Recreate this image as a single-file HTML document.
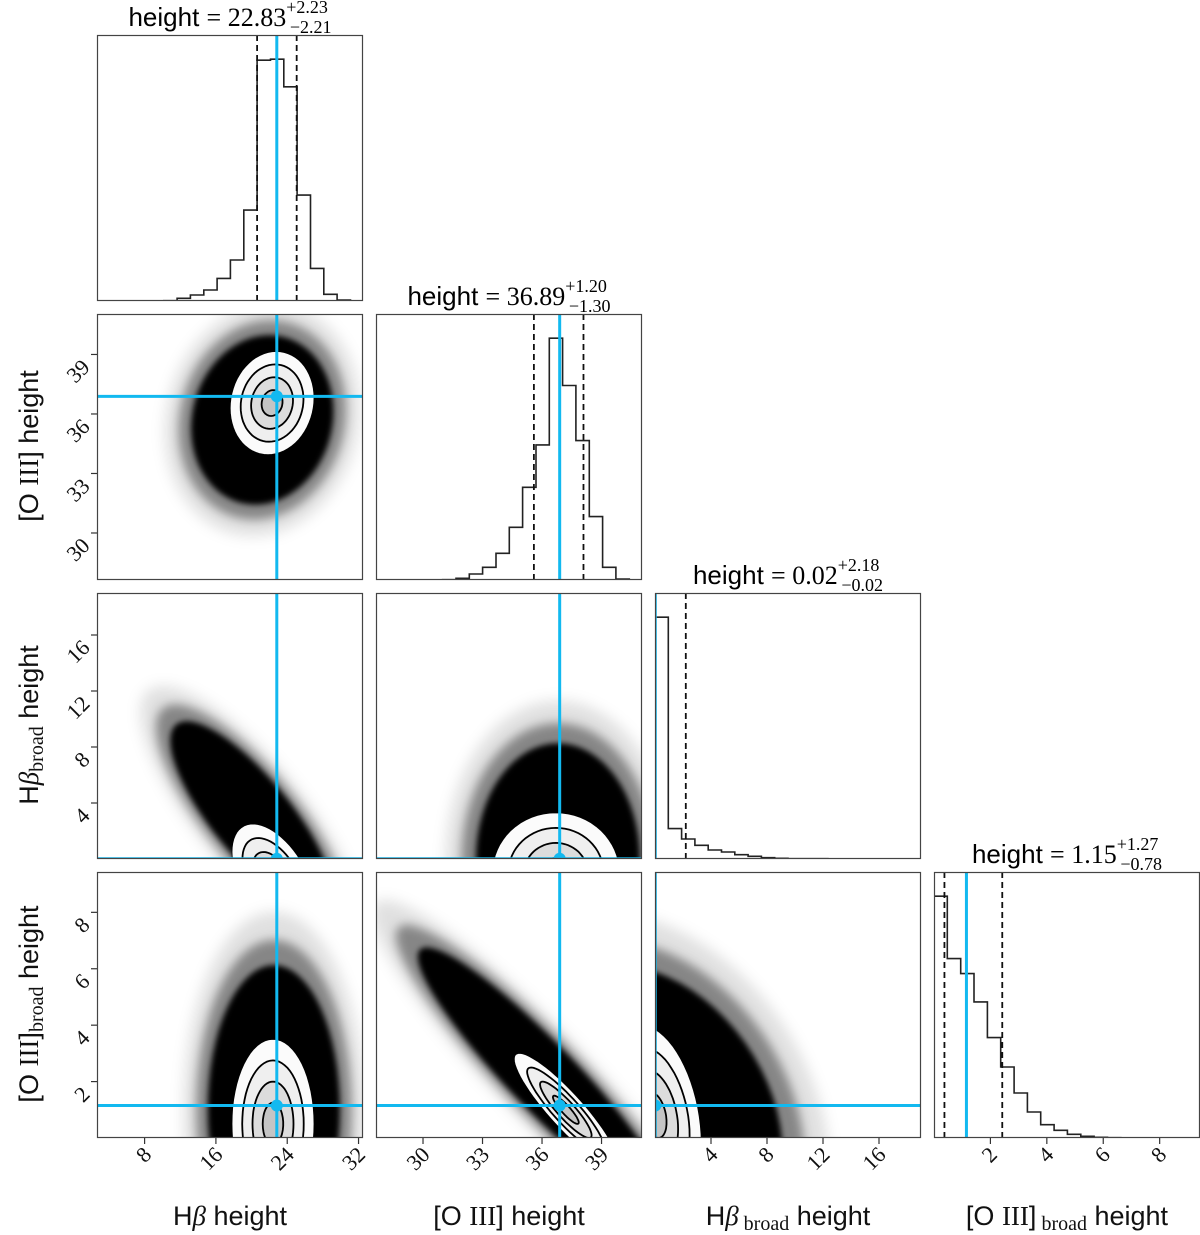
<!DOCTYPE html>
<html><head><meta charset="utf-8">
<style>
html,body{margin:0;padding:0;background:#fff;width:1200px;height:1235px;overflow:hidden;}
svg{display:block;overflow:hidden;}
.tick{font-family:"Liberation Serif",serif;font-size:22px;fill:#111;}
.lab{font-family:"Liberation Sans",sans-serif;font-size:27px;fill:#111;}
.ser{font-family:"Liberation Serif",serif;}
</style></head>
<body>
<svg id="chart" width="1200" height="1235" viewBox="0 0 1200 1235" xmlns="http://www.w3.org/2000/svg">
<defs>
<filter id="b8" x="-50%" y="-50%" width="200%" height="200%"><feGaussianBlur stdDeviation="7"/></filter>
<filter id="b5" x="-50%" y="-50%" width="200%" height="200%"><feGaussianBlur stdDeviation="5"/></filter>
<filter id="b3" x="-50%" y="-50%" width="200%" height="200%"><feGaussianBlur stdDeviation="3"/></filter>
</defs>
<g class="lab">
<text x="230" y="1225" text-anchor="middle">H<tspan class="ser" font-style="italic">β</tspan> height</text>
<text x="509" y="1225" text-anchor="middle">[O <tspan class="ser">III</tspan>] height</text>
<text x="788" y="1225" text-anchor="middle">H<tspan class="ser" font-style="italic">β</tspan><tspan class="ser" font-size="20" dy="5"> broad</tspan><tspan dy="-5"> height</tspan></text>
<text x="1067" y="1225" text-anchor="middle">[O <tspan class="ser">III</tspan>]<tspan class="ser" font-size="20" dy="5"> broad</tspan><tspan dy="-5"> height</tspan></text>
<text transform="translate(38,446) rotate(-90)" text-anchor="middle">[O <tspan class="ser">III</tspan>] height</text>
<text transform="translate(38,725) rotate(-90)" text-anchor="middle">H<tspan class="ser" font-style="italic">β</tspan><tspan class="ser" font-size="20" dy="5">broad</tspan><tspan dy="-5"> height</tspan></text>
<text transform="translate(38,1004) rotate(-90)" text-anchor="middle">[O <tspan class="ser">III</tspan>]<tspan class="ser" font-size="20" dy="5">broad</tspan><tspan dy="-5"> height</tspan></text>
</g>
</svg>
<script>
// ---- data ----
const medians = [22.83, 36.89, 0.02, 1.15];
const errPlus = [2.23, 1.20, 2.18, 1.27];
const errMinus = [2.21, 1.30, 0.02, 0.78];
const rangeLo = [2.66, 27.63, 0.0, 0.0];
const rangeHi = [32.5, 41.04, 19.0, 9.43];
const ticksA = [8,16,24,32];
const ticksB = [30,33,36,39];
const ticksC = [4,8,12,16];
const ticksD = [2,4,6,8];
const histStartA = 10.15, histWidthA = 1.496;
const histCountsA = [1,8,18,33,68,123,273,723,726,643,318,98,20,3];
const histStartB = 30.99, histWidthB = 0.672;
const histCountsB = [1,5,18,38,80,158,278,405,725,583,418,190,38,3];
const histStartC = 0.0, histWidthC = 0.95;
const histCountsC = [725,91,60,41,27,21,13,8,4,2,1,1,1];
const histStartD = 0.0, histWidthD = 0.473;
const histCountsD = [725,538,493,408,301,213,135,78,40,23,11,5,2,1];
// 2D panels: [row, col]; cloud & contour gaussian parameters (cx, cy, sx, sy, rho) in data units
const pairRows = [1,2,2,3,3,3];
const pairCols = [0,0,1,0,1,2];
const cloudCx = [21.2, 20.0, 36.8, 22.5, 36.0, 0.0];
const cloudCy = [35.7, 3.0, 0.0, 1.0, 2.2, 1.0];
const cloudSx = [2.8, 3.2, 1.45, 2.6, 2.2, 3.2];
const cloudSy = [1.5, 2.4, 2.9, 1.8, 1.6, 1.8];
const cloudRho = [0.1, -0.8, 0.0, 0.0, -0.93, -0.3];
const contCx = [22.3, 22.5, 36.7, 22.4, 37.2, 0.0];
const contCy = [36.55, -1.5, -1.0, 0.5, 1.0, 0.8];
const contSx = [2.35, 2.35, 1.6, 2.3, 1.3, 1.65];
const contSy = [1.3, 2.0, 2.15, 1.5, 1.0, 1.6];
const contRho = [0.1, -0.5, 0.0, 0.0, -0.9, -0.3];

const allTicks = [ticksA, ticksB, ticksC, ticksD];
const histStart = [histStartA, histStartB, histStartC, histStartD];
const histWidth = [histWidthA, histWidthB, histWidthC, histWidthD];
const histCounts = [histCountsA, histCountsB, histCountsC, histCountsD];

const NS = "http://www.w3.org/2000/svg";
const svg = document.getElementById("chart");
const P0X = 97, P0Y = 35, STEP = 279, SZ = 266, BLUE = "#12b9f0";
function px(i){return P0X + STEP*i;}
function py(j){return P0Y + STEP*j;}
function xs(v, val){return px(v) + (val - rangeLo[v])/(rangeHi[v]-rangeLo[v])*SZ;}
function ys(v, row, val){return py(row) + SZ - (val - rangeLo[v])/(rangeHi[v]-rangeLo[v])*SZ;}
function mk(tag, attrs, parent){const e=document.createElementNS(NS,tag);for(const k in attrs)e.setAttribute(k,attrs[k]);(parent||svg).appendChild(e);return e;}

function ellipsePath(xv, yv, row, cx, cy, sx, sy, rho, k){
  let d = "";
  const s = Math.sqrt(1-rho*rho);
  for(let t=0;t<=64;t++){
    const a = t/64*2*Math.PI;
    const X = cx + k*sx*Math.cos(a);
    const Y = cy + k*sy*(rho*Math.cos(a) + s*Math.sin(a));
    d += (t?"L":"M") + xs(xv,X).toFixed(1) + " " + ys(yv,row,Y).toFixed(1);
  }
  return d + "Z";
}

const defs = svg.querySelector("defs");
for(let j=0;j<4;j++)for(let i=0;i<=j;i++){
  const cp = mk("clipPath",{id:"c"+j+i},defs);
  mk("rect",{x:px(i),y:py(j),width:SZ,height:SZ},cp);
}

// 2D panels
for(let p=0;p<pairRows.length;p++){
  const r = pairRows[p], c = pairCols[p];
  const g = mk("g",{"clip-path":"url(#c"+r+c+")"});
  
  
  const layers = [[3.9,0.12,"b8"],[3.35,0.4,"b5"],[2.85,1,"b3"]];
  for(const L of layers){
    const e = mk("path",{d:ellipsePath(c,r,r,cloudCx[p],cloudCy[p],cloudSx[p],cloudSy[p],cloudRho[p],L[0]),fill:"#000","fill-opacity":L[1],filter:"url(#"+L[2]+")"},g);
    
    
  }
  const levels = [[2,"#fbfbfb"],[1.5,"#efefef"],[1,"#dcdcdc"],[0.5,"#c4c4c4"]];
  for(const L of levels){
    const e = mk("path",{d:ellipsePath(c,r,r,contCx[p],contCy[p],contSx[p],contSy[p],contRho[p],L[0]),fill:L[1],stroke:"#000","stroke-width":L[0]===2?0.8:1.8},g);
    
    
  }
  const vx = xs(c, medians[c]), hy = ys(r, r, medians[r]);
  const vl = mk("line",{x1:vx,x2:vx,y1:py(r),y2:py(r)+SZ,stroke:BLUE,"stroke-width":3},g);
  
  
  const hl = mk("line",{x1:px(c),x2:px(c)+SZ,y1:hy,y2:hy,stroke:BLUE,"stroke-width":3},g);
  
  
  const dot = mk("circle",{cx:vx,cy:hy,r:6,fill:BLUE},g);
  
  
}

// histograms
for(let i=0;i<4;i++){
  const g = mk("g",{"clip-path":"url(#c"+i+i+")"});
  
  
  const counts = histCounts[i];
  const ymax = Math.max(...counts)*1.1;
  const base = py(i)+SZ;
  const hy = v => base - v/ymax*SZ;
  let d = "M"+xs(i,histStart[i]).toFixed(1)+" "+base;
  counts.forEach((v,k)=>{
    const x0 = xs(i,histStart[i]+k*histWidth[i]), x1 = xs(i,histStart[i]+(k+1)*histWidth[i]);
    d += "L"+x0.toFixed(1)+" "+hy(v).toFixed(1)+"L"+x1.toFixed(1)+" "+hy(v).toFixed(1);
  });
  d += "L"+xs(i,histStart[i]+counts.length*histWidth[i]).toFixed(1)+" "+base;
  const h = mk("path",{d:d,fill:"none",stroke:"#222","stroke-width":1.6},g);
  
  
  [medians[i]-errMinus[i], medians[i]+errPlus[i]].forEach(q=>{
    const x = xs(i,q);
    const l = mk("line",{x1:x,x2:x,y1:py(i),y2:base,stroke:"#111","stroke-width":1.8,"stroke-dasharray":"6,4"},g);
    
    
  });
  const mx = xs(i,medians[i]);
  const ml = mk("line",{x1:mx,x2:mx,y1:py(i),y2:base,stroke:BLUE,"stroke-width":3},g);
  
  

  const cxT = px(i)+SZ/2, by = py(i)-9;
  const t = mk("text",{x:cxT,y:by,"font-size":26,"text-anchor":"middle"});
  
  
  const t1 = mk("tspan",{"font-family":"Liberation Sans, sans-serif"},t); t1.textContent = "height ";
  const t2 = mk("tspan",{"font-family":"Liberation Serif, serif"},t); t2.textContent = "= "+medians[i].toFixed(2);
  const t3 = mk("tspan",{"font-family":"Liberation Serif, serif","font-size":18,dy:-13},t); t3.textContent = "+"+errPlus[i].toFixed(2);
  const t4 = mk("tspan",{"font-family":"Liberation Serif, serif","font-size":18,dy:20,dx:-38},t); t4.textContent = "−"+errMinus[i].toFixed(2);
}

// frames
for(let j=0;j<4;j++)for(let i=0;i<=j;i++){
  const f = mk("rect",{x:px(i)+0.5,y:py(j)+0.5,width:SZ-1,height:SZ-1,fill:"none",stroke:"#444","stroke-width":1.2});
  
  
}

// x ticks
for(let i=0;i<4;i++){
  const yb = py(3)+SZ;
  allTicks[i].forEach(v=>{
    const x = xs(i,v);
    const tk = mk("line",{x1:x,x2:x,y1:yb,y2:yb+6,stroke:"#333","stroke-width":1.2});
    
    
    const tx = mk("text",{class:"tick","text-anchor":"end",transform:"translate("+(x+8)+","+(yb+18)+") rotate(-45)"});
    tx.textContent = v;
    
    
  });
}
// y ticks
for(let j=1;j<4;j++){
  allTicks[j].forEach(v=>{
    const y = ys(j,j,v);
    const tk = mk("line",{x1:P0X-6,x2:P0X,y1:y,y2:y,stroke:"#333","stroke-width":1.2});
    
    
    const tx = mk("text",{class:"tick","text-anchor":"end",transform:"translate("+(P0X-6)+","+(y+14)+") rotate(-45)"});
    tx.textContent = v;
    
    
  });
}
</script>
</body></html>
